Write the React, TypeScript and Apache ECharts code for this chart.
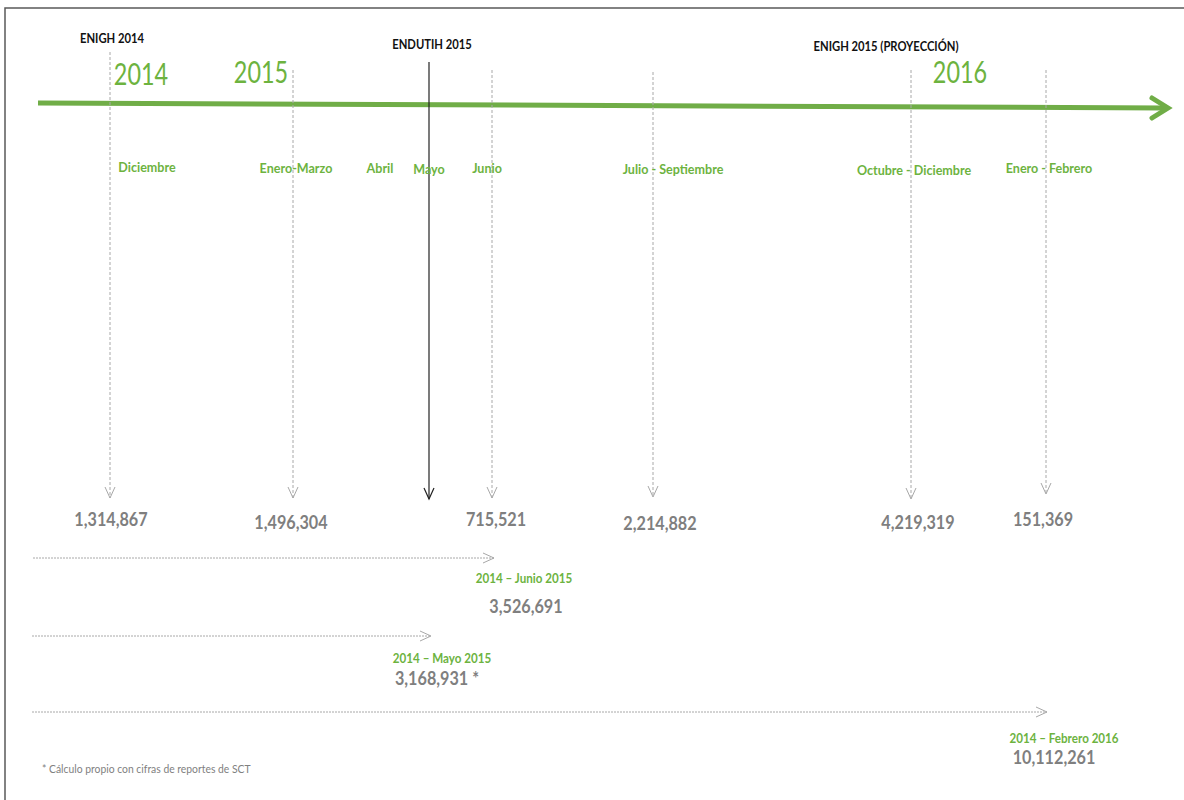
import React, { useEffect, useRef } from 'react';
import * as echarts from 'echarts';

// ---------- data ----------
const periods = ['Diciembre', 'Enero-Marzo', 'Junio', 'Julio - Septiembre', 'Octubre - Diciembre', 'Enero - Febrero'];
const periodValues = [1314867, 1496304, 715521, 2214882, 4219319, 151369];
const otherMonths = ['Abril', 'Mayo'];
const years = ['2014', '2015', '2016'];
const surveys = ['ENIGH 2014', 'ENDUTIH 2015', 'ENIGH 2015 (PROYECCIÓN)'];
const rangeLabels = ['2014 – Junio 2015', '2014 – Mayo 2015', '2014 – Febrero 2016'];
const rangeTotals = [3526691, 3168931, 10112261];
const rangeMarks = ['', ' *', ''];
const footnote = '* Cálculo propio con cifras de reportes de SCT';

// ---------- layout (canvas units) ----------
const periodLineX = [110, 293, 492, 653, 911, 1046];
const periodLineTop = [52, 70, 70, 72, 70, 70];
const periodLineBottom = [498, 498, 498, 497, 499, 494];
const periodLabelX = [147, 296, 487, 673, 914, 1049];
const periodLabelY = [167, 168, 168, 169, 170, 168];
const periodValueX = [111, 291, 496, 660, 918, 1043];
const periodValueY = [519, 522, 519, 523, 522, 519];
const otherMonthX = [380, 429];
const otherMonthY = [168, 169];
const mayoLine = [429, 62, 499];
const yearX = [141, 261, 960];
const yearY = [73, 71, 71];
const surveyX = [112, 432, 886];
const surveyY = [38, 44, 46];
const rangeY = [558, 636, 712];
const rangeX0 = [33, 32, 32];
const rangeX1 = [494, 431, 1047];
const rangeLabelX = [524, 442, 1064];
const rangeLabelY = [578, 658, 738];
const rangeTotalX = [526, 437, 1054];
const rangeTotalY = [606, 678, 757];
const mainArrow = [38, 103, 1168, 108];
const footX = 42;
const footY = 768;

const GREEN = '#70AD47';
const GREEN_TXT = '#6DB33F';
const GRAY_TXT = '#7F7F7F';
const DASH = '#A8A8A8';
const FONT = 'Lato, "Open Sans", sans-serif';

const fmt = (v: number) => v.toLocaleString('en-US');

function txt(x: number, y: number, text: string, size: number, weight: any, fill: string, align = 'center', sx = 0.93) {
  return {
    type: 'text',
    x,
    y,
    scaleX: sx,
    style: { text, fill, fontSize: size, fontWeight: weight, fontFamily: FONT, align, verticalAlign: 'middle' },
  };
}

export default function App() {
  const ref = useRef<HTMLDivElement>(null);

  useEffect(() => {
    if (!ref.current) return;
    const chart = echarts.init(ref.current, undefined, { renderer: 'svg' });

    const periodData = periods.map((_, i) => [periodLineX[i], periodLineTop[i], periodLineBottom[i], periodValues[i]]);
    const rangeData = rangeLabels.map((_, i) => [rangeX0[i], rangeY[i], rangeX1[i], rangeTotals[i]]);

    chart.setOption({
      animation: false,
      grid: { left: 0, right: 0, top: 0, bottom: 0 },
      xAxis: { type: 'value', min: 0, max: 1184, show: false },
      yAxis: { type: 'value', min: 0, max: 800, inverse: true, show: false },
      series: [
        // frame
        {
          type: 'custom',
          clip: false,
          data: [[5, 8]],
          renderItem: (params: any, api: any) => {
            const p = api.coord([api.value(0), api.value(1)]);
            const end = api.coord([1184, 800]);
            return {
              type: 'polyline',
              shape: { points: [[end[0], p[1]], [p[0], p[1]], [p[0], end[1]]] },
              style: { stroke: '#5A5A5A', lineWidth: 1.5, fill: 'none' },
            };
          },
        },
        // main green timeline arrow
        {
          type: 'custom',
          clip: false,
          data: [mainArrow],
          renderItem: (params: any, api: any) => {
            const a = api.coord([api.value(0), api.value(1)]);
            const b = api.coord([api.value(2), api.value(3)]);
            return {
              type: 'group',
              children: [
                { type: 'line', shape: { x1: a[0], y1: a[1], x2: b[0] - 4, y2: b[1] }, style: { stroke: GREEN, lineWidth: 5 } },
                {
                  type: 'polyline',
                  shape: { points: [[b[0] - 16, b[1] - 10], [b[0], b[1]], [b[0] - 16, b[1] + 10]] },
                  style: { stroke: GREEN, lineWidth: 5, fill: 'none', lineCap: 'round', lineJoin: 'miter' },
                },
              ],
            };
          },
        },
        // years
        {
          type: 'custom',
          clip: false,
          data: years.map((_, i) => [yearX[i], yearY[i]]),
          renderItem: (params: any, api: any) => {
            const p = api.coord([api.value(0), api.value(1)]);
            return txt(p[0], p[1], years[params.dataIndex], 30, 'normal', GREEN_TXT, 'center', 0.78);
          },
        },
        // surveys
        {
          type: 'custom',
          clip: false,
          data: surveys.map((_, i) => [surveyX[i], surveyY[i]]),
          renderItem: (params: any, api: any) => {
            const p = api.coord([api.value(0), api.value(1)]);
            return txt(p[0], p[1], surveys[params.dataIndex], 12.5, 'bold', '#111', 'center', 0.9);
          },
        },
        // ENDUTIH (Mayo) solid arrow
        {
          type: 'custom',
          clip: false,
          data: [mayoLine],
          renderItem: (params: any, api: any) => {
            const a = api.coord([api.value(0), api.value(1)]);
            const b = api.coord([api.value(0), api.value(2)]);
            return {
              type: 'group',
              children: [
                { type: 'line', shape: { x1: a[0], y1: a[1], x2: b[0], y2: b[1] }, style: { stroke: '#222', lineWidth: 1.2 } },
                {
                  type: 'polyline',
                  shape: { points: [[b[0] - 5, b[1] - 11], [b[0], b[1]], [b[0] + 5, b[1] - 11]] },
                  style: { stroke: '#222', lineWidth: 1.2, fill: 'none' },
                },
              ],
            };
          },
        },
        // other months (no values)
        {
          type: 'custom',
          clip: false,
          data: otherMonths.map((_, i) => [otherMonthX[i], otherMonthY[i]]),
          renderItem: (params: any, api: any) => {
            const p = api.coord([api.value(0), api.value(1)]);
            return txt(p[0], p[1], otherMonths[params.dataIndex], 13.5, 'bold', GREEN_TXT);
          },
        },
        // periods: dashed arrow, label, value
        {
          type: 'custom',
          clip: false,
          data: periodData,
          renderItem: (params: any, api: any) => {
            const i = params.dataIndex;
            const a = api.coord([api.value(0), api.value(1)]);
            const b = api.coord([api.value(0), api.value(2)]);
            const l = api.coord([periodLabelX[i], periodLabelY[i]]);
            const v = api.coord([periodValueX[i], periodValueY[i]]);
            return {
              type: 'group',
              children: [
                { type: 'line', shape: { x1: a[0], y1: a[1], x2: b[0], y2: b[1] }, style: { stroke: DASH, lineWidth: 1, lineDash: [3, 2] } },
                {
                  type: 'polyline',
                  shape: { points: [[b[0] - 5, b[1] - 11], [b[0], b[1]], [b[0] + 5, b[1] - 11]] },
                  style: { stroke: DASH, lineWidth: 1, fill: 'none' },
                },
                txt(l[0], l[1], periods[i], 13.5, 'bold', GREEN_TXT),
                txt(v[0], v[1], fmt(api.value(3)), 18, 'bold', GRAY_TXT, 'center', 0.9),
              ],
            };
          },
        },
        // cumulative ranges
        {
          type: 'custom',
          clip: false,
          data: rangeData,
          renderItem: (params: any, api: any) => {
            const i = params.dataIndex;
            const a = api.coord([api.value(0), api.value(1)]);
            const b = api.coord([api.value(2), api.value(1)]);
            const l = api.coord([rangeLabelX[i], rangeLabelY[i]]);
            const t = api.coord([rangeTotalX[i], rangeTotalY[i]]);
            return {
              type: 'group',
              children: [
                { type: 'line', shape: { x1: a[0], y1: a[1], x2: b[0], y2: b[1] }, style: { stroke: DASH, lineWidth: 1, lineDash: [2, 1] } },
                {
                  type: 'polyline',
                  shape: { points: [[b[0] - 11, b[1] - 5], [b[0], b[1]], [b[0] - 11, b[1] + 5]] },
                  style: { stroke: DASH, lineWidth: 1, fill: 'none' },
                },
                txt(l[0], l[1], rangeLabels[i], 12.5, 'bold', GREEN_TXT),
                txt(t[0], t[1], fmt(api.value(3)) + rangeMarks[i], 18, 'bold', GRAY_TXT, 'center', 0.9),
              ],
            };
          },
        },
        // footnote
        {
          type: 'custom',
          clip: false,
          data: [[footX, footY]],
          renderItem: (params: any, api: any) => {
            const p = api.coord([api.value(0), api.value(1)]);
            return txt(p[0], p[1], footnote, 11.5, 'normal', GRAY_TXT, 'left', 0.9);
          },
        },
      ],
    });

    return () => chart.dispose();
  }, []);

  return (
    <div
      ref={ref}
      style={{ width: 1184, height: 800, position: 'absolute', left: 0, top: 0, background: '#fff' }}
    />
  );
}
